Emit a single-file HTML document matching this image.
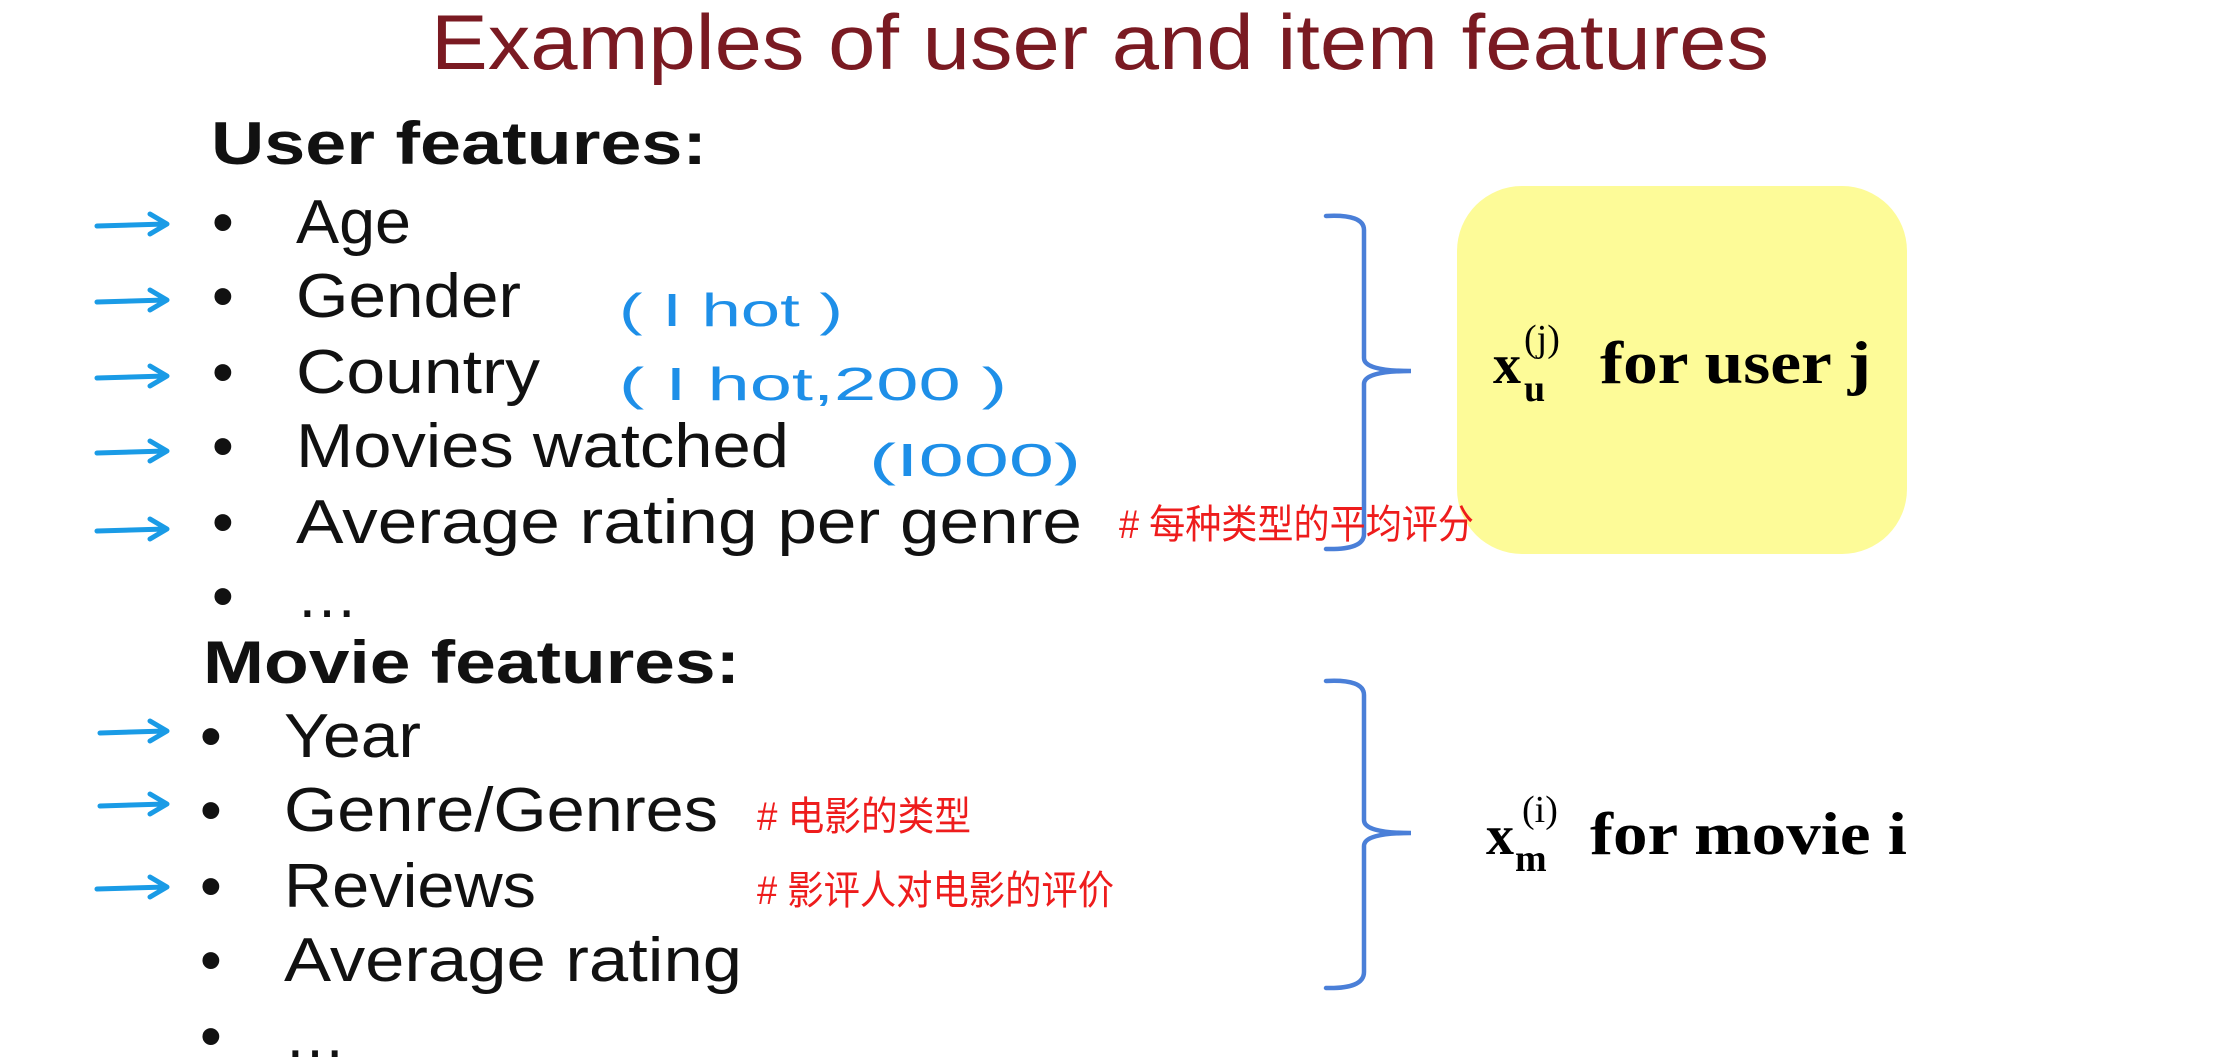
<!DOCTYPE html>
<html><head><meta charset="utf-8"><style>
html,body{margin:0;padding:0;background:#fff;}
svg{display:block;}
</style></head><body>
<svg width="2240" height="1060" viewBox="0 0 2240 1060" xmlns="http://www.w3.org/2000/svg">
<rect width="2240" height="1060" fill="#fff"/>
<text x="431" y="69" font-family="Liberation Sans, sans-serif" font-size="78" fill="#7a1a22" textLength="1338" lengthAdjust="spacingAndGlyphs">Examples of user and item features</text>

<g font-family="Liberation Sans, sans-serif" fill="#111">
<text x="211" y="164" font-size="60" font-weight="bold" textLength="496" lengthAdjust="spacingAndGlyphs">User features:</text>
<g font-size="62">
<text x="212" y="243">•</text><text x="296" y="243" textLength="115" lengthAdjust="spacingAndGlyphs">Age</text>
<text x="212" y="317">•</text><text x="296" y="317" textLength="225" lengthAdjust="spacingAndGlyphs">Gender</text>
<text x="212" y="393">•</text><text x="296" y="393" textLength="244" lengthAdjust="spacingAndGlyphs">Country</text>
<text x="212" y="467">•</text><text x="296" y="467" textLength="493" lengthAdjust="spacingAndGlyphs">Movies watched</text>
<text x="212" y="543">•</text><text x="296" y="543" textLength="786" lengthAdjust="spacingAndGlyphs">Average rating per genre</text>
<text x="212" y="617">•</text><text x="296" y="617">…</text>
</g>
<text x="203" y="683" font-size="60" font-weight="bold" textLength="537" lengthAdjust="spacingAndGlyphs">Movie features:</text>
<g font-size="62">
<text x="200" y="757">•</text><text x="284" y="757" textLength="137" lengthAdjust="spacingAndGlyphs">Year</text>
<text x="200" y="831">•</text><text x="284" y="831" textLength="434" lengthAdjust="spacingAndGlyphs">Genre/Genres</text>
<text x="200" y="907">•</text><text x="284" y="907" textLength="252" lengthAdjust="spacingAndGlyphs">Reviews</text>
<text x="200" y="981">•</text><text x="284" y="981" textLength="458" lengthAdjust="spacingAndGlyphs">Average rating</text>
<text x="200" y="1057">•</text><text x="284" y="1057">…</text>
</g>
</g>

<g stroke="#1a9be6" stroke-width="5" fill="none" stroke-linecap="round" stroke-linejoin="round">
<path d="M97 226 L166 224 M150 214 L167 224 L150 234"/>
<path d="M97 302 L166 300 M150 290 L167 300 L150 310"/>
<path d="M97 378 L166 376 M150 366 L167 376 L150 386"/>
<path d="M97 453 L166 451 M150 441 L167 451 L150 461"/>
<path d="M97 531 L166 529 M150 519 L167 529 L150 539"/>
<path d="M100 733 L166 731 M150 721 L167 731 L150 741"/>
<path d="M100 806 L166 804 M150 794 L167 804 L150 814"/>
<path d="M97 889 L166 887 M150 877 L167 887 L150 897"/>
</g>

<g font-family="Liberation Sans, sans-serif" fill="#1e8fe8" font-size="46">
<text x="619" y="326" textLength="224" lengthAdjust="spacingAndGlyphs">( I  hot )</text>
<text x="619" y="400" textLength="388" lengthAdjust="spacingAndGlyphs">( I  hot,200 )</text>
<text x="869" y="476" textLength="212" lengthAdjust="spacingAndGlyphs">(I000)</text>
</g>

<rect x="1457" y="186" width="450" height="368" rx="65" fill="#fdfb98"/>

<g stroke="#4a7fd8" stroke-width="4.5" fill="none" stroke-linecap="round">
<path d="M1326 216 Q1364 214 1364 230 L1364 358 Q1364 371 1411 371 Q1364 371 1364 384 L1364 534 Q1364 550 1326 549"/>
<path d="M1326 681 Q1364 679 1364 695 L1364 820 Q1364 833 1411 833 Q1364 833 1364 846 L1364 972 Q1364 989 1326 988"/>
</g>

<g font-family="Liberation Sans, 'Noto Sans CJK SC', sans-serif" fill="#ee1c1c" font-size="40">
<text x="1119" y="538" textLength="355" lengthAdjust="spacingAndGlyphs"># 每种类型的平均评分</text>
<text x="757" y="830" textLength="214" lengthAdjust="spacingAndGlyphs"># 电影的类型</text>
<text x="757" y="904" textLength="357" lengthAdjust="spacingAndGlyphs"># 影评人对电影的评价</text>
</g>

<g font-family="Liberation Serif, serif" font-weight="bold" fill="#000">
<text x="1493" y="383" font-size="56">x</text>
<text x="1524" y="401" font-size="38">u</text>
<text x="1524" y="351" font-size="38" font-weight="normal">(j)</text>
<text x="1600" y="383" font-size="60" textLength="271" lengthAdjust="spacingAndGlyphs">for user j</text>
<text x="1486" y="854" font-size="56">x</text>
<text x="1515" y="871" font-size="38">m</text>
<text x="1522" y="822" font-size="38" font-weight="normal">(i)</text>
<text x="1590" y="854" font-size="60" textLength="317" lengthAdjust="spacingAndGlyphs">for movie i</text>
</g>
</svg>
</body></html>
